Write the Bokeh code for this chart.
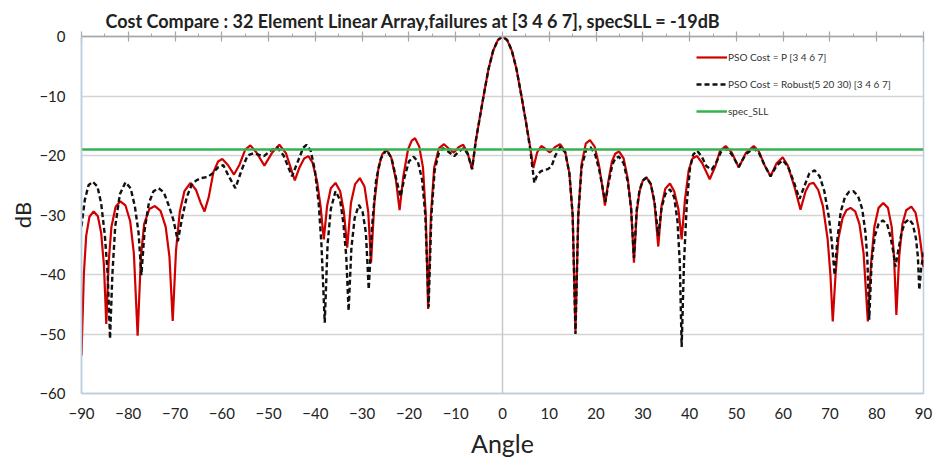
from bokeh.plotting import figure
from bokeh.models import Span, LinearAxis, SingleIntervalTicker, FixedTicker, Legend
from bokeh.embed import file_html
from bokeh.resources import INLINE

# ---- data ----
angle_p = [-90.0, -89.5, -89.0, -88.3, -87.4, -86.5, -85.8, -85.2, -84.7, -84.2, -83.6, -82.7, -81.7, -80.6,
           -79.6, -78.8, -78.0, -77.3, -76.6, -75.5, -74.3, -73.1, -72.0, -71.2, -70.5, -69.8, -69.0, -68.0,
           -66.7, -65.5, -64.5, -63.7, -62.8, -61.8, -60.8, -59.9, -58.7, -57.4, -56.2, -55.0, -53.9, -52.6,
           -50.9, -49.3, -47.7, -46.3, -45.3, -44.4, -43.4, -42.4, -41.5, -40.6, -39.6, -38.9, -38.2, -37.5,
           -36.7, -35.7, -34.7, -33.9, -33.2, -32.4, -31.5, -30.5, -29.5, -28.7, -28.1, -27.4, -26.5, -25.7,
           -24.8, -23.8, -22.8, -22.0, -21.2, -20.2, -19.4, -18.7, -17.8, -17.0, -16.4, -15.9, -15.3, -14.6,
           -13.6, -12.5, -11.4, -10.4, -9.4, -8.4, -7.5, -6.5, -5.7, -5.0, -4.0, -3.0, -2.0, -1.0, 0.0,
           1.0, 2.0, 3.0, 4.0, 5.0, 5.8, 6.6, 7.4, 8.3, 9.2, 10.1, 11.2, 12.3, 13.4, 14.3, 15.0, 15.6, 16.2,
           16.9, 17.8, 18.7, 19.7, 20.6, 21.3, 21.9, 22.6, 23.4, 24.1, 24.9, 25.9, 26.8, 27.5, 28.1, 28.7,
           29.3, 30.0, 30.8, 31.7, 32.5, 33.3, 34.0, 34.8, 35.8, 36.7, 37.6, 38.3, 39.0, 39.8, 40.6, 41.6,
           42.7, 44.3, 45.5, 46.5, 47.7, 49.0, 50.5, 52.0, 53.7, 54.8, 56.0, 57.3, 58.6, 59.9, 61.0, 62.5,
           63.7, 64.8, 65.6, 66.5, 67.5, 68.5, 69.5, 70.1, 70.6, 71.2, 71.8, 72.7, 73.5, 74.4, 75.4, 76.3,
           77.2, 78.1, 78.8, 79.5, 80.4, 81.4, 82.4, 83.2, 83.7, 84.2, 84.8, 85.5, 86.3, 87.4, 88.3, 89.0,
           89.5, 90.0]
db_p = [-53.6, -40.0, -33.5, -30.3, -29.4, -30.2, -33.0, -38.5, -48.3, -38.0, -32.0, -28.6, -27.7, -28.4,
        -31.0, -36.5, -50.3, -37.0, -31.5, -29.0, -28.5, -29.3, -32.0, -37.0, -47.8, -36.0, -29.5, -26.0,
        -24.6, -25.8, -28.0, -29.4, -27.0, -22.8, -21.0, -20.6, -21.6, -23.2, -21.5, -19.0, -18.3, -19.5,
        -21.7, -19.6, -18.2, -19.6, -22.0, -24.2, -22.0, -20.5, -20.1, -21.2, -24.5, -28.5, -34.1, -28.5,
        -25.5, -24.6, -26.0, -29.5, -35.5, -28.0, -24.8, -23.8, -25.2, -29.5, -38.0, -28.0, -22.0, -19.8,
        -19.0, -20.3, -24.0, -29.2, -23.5, -19.0, -17.5, -17.1, -18.5, -22.0, -30.0, -45.8, -30.0, -22.0,
        -18.8, -18.1, -18.9, -19.5, -18.6, -18.2, -19.5, -22.3, -17.5, -14.3, -9.8, -5.5, -2.4, -0.6, 0.0,
        -0.6, -2.4, -5.5, -9.8, -14.3, -18.0, -22.1, -19.5, -18.4, -18.9, -19.5, -18.6, -18.1, -19.3, -23.0,
        -30.0, -49.7, -30.0, -21.5, -18.0, -17.4, -18.5, -21.5, -25.0, -28.4, -24.5, -21.0, -19.7, -19.3,
        -20.5, -24.0, -29.0, -38.0, -29.5, -26.0, -24.2, -23.7, -24.8, -28.0, -35.3, -28.5, -25.6, -24.7,
        -26.0, -29.0, -34.1, -27.5, -22.5, -20.5, -20.1, -21.3, -24.0, -21.8, -19.2, -18.4, -19.5, -22.0,
        -19.6, -18.4, -19.3, -21.6, -23.5, -21.3, -20.3, -21.7, -25.5, -29.1, -26.0, -24.8, -24.6, -25.8,
        -28.5, -34.0, -40.0, -47.9, -40.0, -34.0, -30.5, -29.2, -28.8, -29.4, -31.5, -36.5, -47.9, -38.0,
        -32.0, -28.8, -28.0, -28.8, -32.0, -37.0, -46.8, -37.0, -31.5, -29.2, -28.6, -29.6, -32.5, -35.5,
        -38.8]

angle_r = [-90.0, -89.3, -88.5, -87.6, -86.6, -85.8, -85.0, -84.4, -83.9, -83.4, -82.8, -81.8, -80.6, -79.5,
           -78.6, -77.8, -77.2, -76.5, -75.6, -74.6, -73.5, -72.4, -71.3, -70.3, -69.4, -68.5, -67.5, -66.5,
           -65.5, -64.5, -63.0, -62.0, -60.8, -59.7, -58.5, -57.1, -55.8, -54.5, -53.2, -52.0, -51.0, -49.6,
           -48.2, -46.8, -45.0, -43.5, -42.6, -41.9, -41.0, -40.1, -39.3, -38.7, -38.0, -37.4, -36.7, -35.7,
           -34.7, -34.0, -33.4, -32.9, -32.3, -31.6, -30.7, -29.9, -29.2, -28.6, -27.9, -27.0, -26.0, -24.8,
           -23.7, -22.7, -21.8, -20.9, -20.0, -19.0, -18.1, -17.2, -16.5, -15.8, -15.2, -14.5, -13.6, -12.7,
           -11.5, -10.3, -9.3, -8.3, -7.4, -6.5, -5.7, -5.0, -4.0, -3.0, -2.0, -1.0, 0.0, 1.0, 2.0, 3.0, 4.0,
           5.0, 5.9, 6.8, 7.3, 8.1, 9.0, 9.7, 10.5, 11.3, 12.4, 13.4, 14.3, 15.0, 15.6, 16.2, 16.9, 17.9,
           18.8, 19.8, 20.7, 21.3, 22.0, 22.7, 23.5, 24.2, 24.9, 25.9, 26.8, 27.5, 28.1, 28.7, 29.3, 30.0,
           30.8, 31.7, 32.5, 33.3, 34.0, 34.8, 35.8, 36.7, 37.4, 37.9, 38.3, 38.8, 39.4, 40.1, 40.8, 41.6,
           42.6, 43.6, 44.7, 45.8, 46.7, 47.7, 49.0, 50.5, 52.0, 53.7, 54.8, 56.0, 57.3, 58.6, 59.9, 61.0,
           62.3, 63.5, 64.6, 65.6, 66.7, 67.8, 68.8, 69.8, 70.4, 71.0, 71.6, 72.3, 73.2, 74.1, 75.0, 76.0,
           76.9, 77.6, 78.0, 78.4, 78.9, 79.6, 80.4, 81.3, 82.2, 82.9, 83.5, 84.0, 84.6, 85.3, 86.0, 86.9,
           87.7, 88.4, 88.8, 89.1, 89.5, 90.0]
db_r = [-31.9, -27.5, -25.0, -24.4, -25.2, -28.0, -33.5, -40.0, -50.8, -40.0, -32.0, -26.5, -24.5, -25.5,
        -28.5, -33.0, -40.1, -32.5, -28.0, -26.0, -25.5, -26.2, -28.5, -31.0, -34.4, -30.5, -27.0, -25.0,
        -24.2, -23.8, -23.6, -23.0, -22.0, -21.6, -23.5, -25.5, -22.5, -20.0, -19.6, -19.9, -20.1, -19.2,
        -18.6, -20.0, -23.5, -20.5, -18.7, -18.2, -19.2, -22.5, -28.0, -35.0, -48.1, -35.0, -29.0, -26.0,
        -27.5, -31.5, -37.0, -46.1, -35.5, -30.5, -28.3, -29.5, -33.0, -42.5, -32.0, -24.0, -20.5, -19.0,
        -20.5, -24.0, -26.9, -23.5, -21.0, -20.2, -21.0, -24.0, -30.0, -45.5, -30.0, -22.5, -19.5, -18.8,
        -19.4, -20.1, -19.3, -18.8, -19.8, -22.3, -17.5, -14.3, -9.8, -5.5, -2.4, -0.6, 0.0, -0.6, -2.4,
        -5.5, -9.8, -14.3, -18.8, -24.6, -23.5, -22.7, -22.4, -22.3, -21.8, -20.0, -18.5, -19.5, -23.0,
        -30.0, -50.0, -30.0, -22.0, -19.0, -18.6, -19.8, -22.5, -25.0, -27.8, -24.5, -21.5, -20.4, -20.2,
        -21.3, -24.5, -29.0, -37.2, -29.0, -25.8, -24.2, -23.7, -24.8, -27.8, -33.5, -28.8, -26.5, -25.7,
        -27.0, -31.0, -38.0, -52.2, -38.0, -28.0, -22.0, -19.8, -19.2, -20.2, -21.8, -22.4, -21.0, -19.4,
        -18.8, -19.8, -21.9, -19.8, -18.8, -19.5, -21.6, -23.5, -21.7, -20.8, -21.8, -24.5, -27.3, -25.0,
        -23.0, -22.5, -23.5, -26.0, -30.5, -34.5, -40.1, -34.0, -29.5, -27.0, -26.1, -26.0, -26.8, -29.0,
        -33.0, -37.5, -47.6, -38.0, -33.5, -31.5, -30.9, -31.5, -33.5, -36.0, -38.7, -36.0, -33.0, -31.3,
        -30.7, -31.5, -34.0, -37.0, -42.6, -39.0, -36.3]

spec_angle = [-90, 90]
spec_db = [-19, -19]

x_ticks = list(range(-90, 91, 10))
y_ticks = list(range(-60, 1, 10))

FONT = "Lato"

p = figure(width=939, height=460, x_range=(-90, 90), y_range=(-60, 0),
           output_backend="svg", toolbar_location=None,
           min_border_left=81, min_border_right=16, min_border_top=36, min_border_bottom=65)

p.title.text = "Cost Compare : 32 Element Linear Array,failures at [3 4 6 7], specSLL = -19dB"
p.title.text_font = FONT
p.title.text_font_size = "18px"
p.title.text_font_style = "bold"
p.title.text_color = "#222222"
p.title.align = "left"
p.title.offset = 24
p.title.standoff = 0

border = "#bccde0"
p.outline_line_color = border
p.outline_line_width = 1.5
p.background_fill_color = "white"
p.border_fill_color = "white"

p.xgrid.visible = False
p.ygrid.ticker = FixedTicker(ticks=y_ticks)
p.ygrid.grid_line_color = "#d4d4d4"
p.ygrid.grid_line_width = 1.5

# bottom axis
xa = p.xaxis[0]
xa.ticker = FixedTicker(ticks=x_ticks)
xa.axis_line_color = border
xa.axis_line_width = 1.5
xa.major_tick_line_color = None
xa.minor_tick_line_color = None
xa.major_label_text_font = FONT
xa.major_label_text_font_size = "15px"
xa.major_label_text_color = "#222222"
xa.major_label_standoff = 8
xa.axis_label = "Angle"
xa.axis_label_text_font = FONT
xa.axis_label_text_font_size = "25px"
xa.axis_label_text_font_style = "normal"
xa.axis_label_text_color = "#222222"
xa.axis_label_standoff = 6

ya = p.yaxis[0]
ya.ticker = FixedTicker(ticks=y_ticks)
ya.axis_line_color = border
ya.axis_line_width = 1.5
ya.major_tick_line_color = None
ya.minor_tick_line_color = None
ya.major_label_text_font = FONT
ya.major_label_text_font_size = "15px"
ya.major_label_text_color = "#222222"
ya.major_label_standoff = 10
ya.axis_label = "dB"
ya.axis_label_text_font = FONT
ya.axis_label_text_font_size = "22px"
ya.axis_label_text_font_style = "normal"
ya.axis_label_text_color = "#222222"
ya.axis_label_standoff = 0

# top axis line at 0 dB with crossing ticks
top = LinearAxis(ticker=SingleIntervalTicker(interval=10, num_minor_ticks=2))
top.axis_line_color = "#a6a6a6"
top.axis_line_width = 1.5
top.major_tick_line_color = "#a6a6a6"
top.major_tick_line_width = 1.2
top.major_tick_in = 5
top.major_tick_out = 5
top.minor_tick_line_color = "#a6a6a6"
top.minor_tick_in = 0
top.minor_tick_out = 3
top.major_label_text_font_size = "1px"
top.major_label_text_alpha = 0
top.major_label_standoff = 0
p.add_layout(top, "above")

p.add_layout(Span(location=0, dimension="height", line_color="#c8c8c8", line_width=1.5))

r1 = p.line(angle_p, db_p, line_color="#d00000", line_width=2.2)
r2 = p.line(angle_r, db_r, line_color="#111111", line_width=2.4, line_dash="5 3")
r3 = p.line(spec_angle, spec_db, line_color="#33b34f", line_width=2.5)

legend = Legend(items=[("PSO Cost = P [3 4 6 7]", [r1]),
                       ("PSO Cost = Robust(5 20 30) [3 4 6 7]", [r2]),
                       ("spec_SLL", [r3])],
                location=(615, 272))
legend.label_text_font = FONT
legend.label_text_font_size = "10px"
legend.label_text_color = "#333333"
legend.glyph_width = 31
legend.glyph_height = 20
legend.label_height = 20
legend.spacing = 7
legend.padding = 0
legend.margin = 0
legend.label_standoff = 1
legend.border_line_color = None
legend.background_fill_alpha = 0
p.add_layout(legend, "center")

open("out.html", "w").write(file_html(p, INLINE))
